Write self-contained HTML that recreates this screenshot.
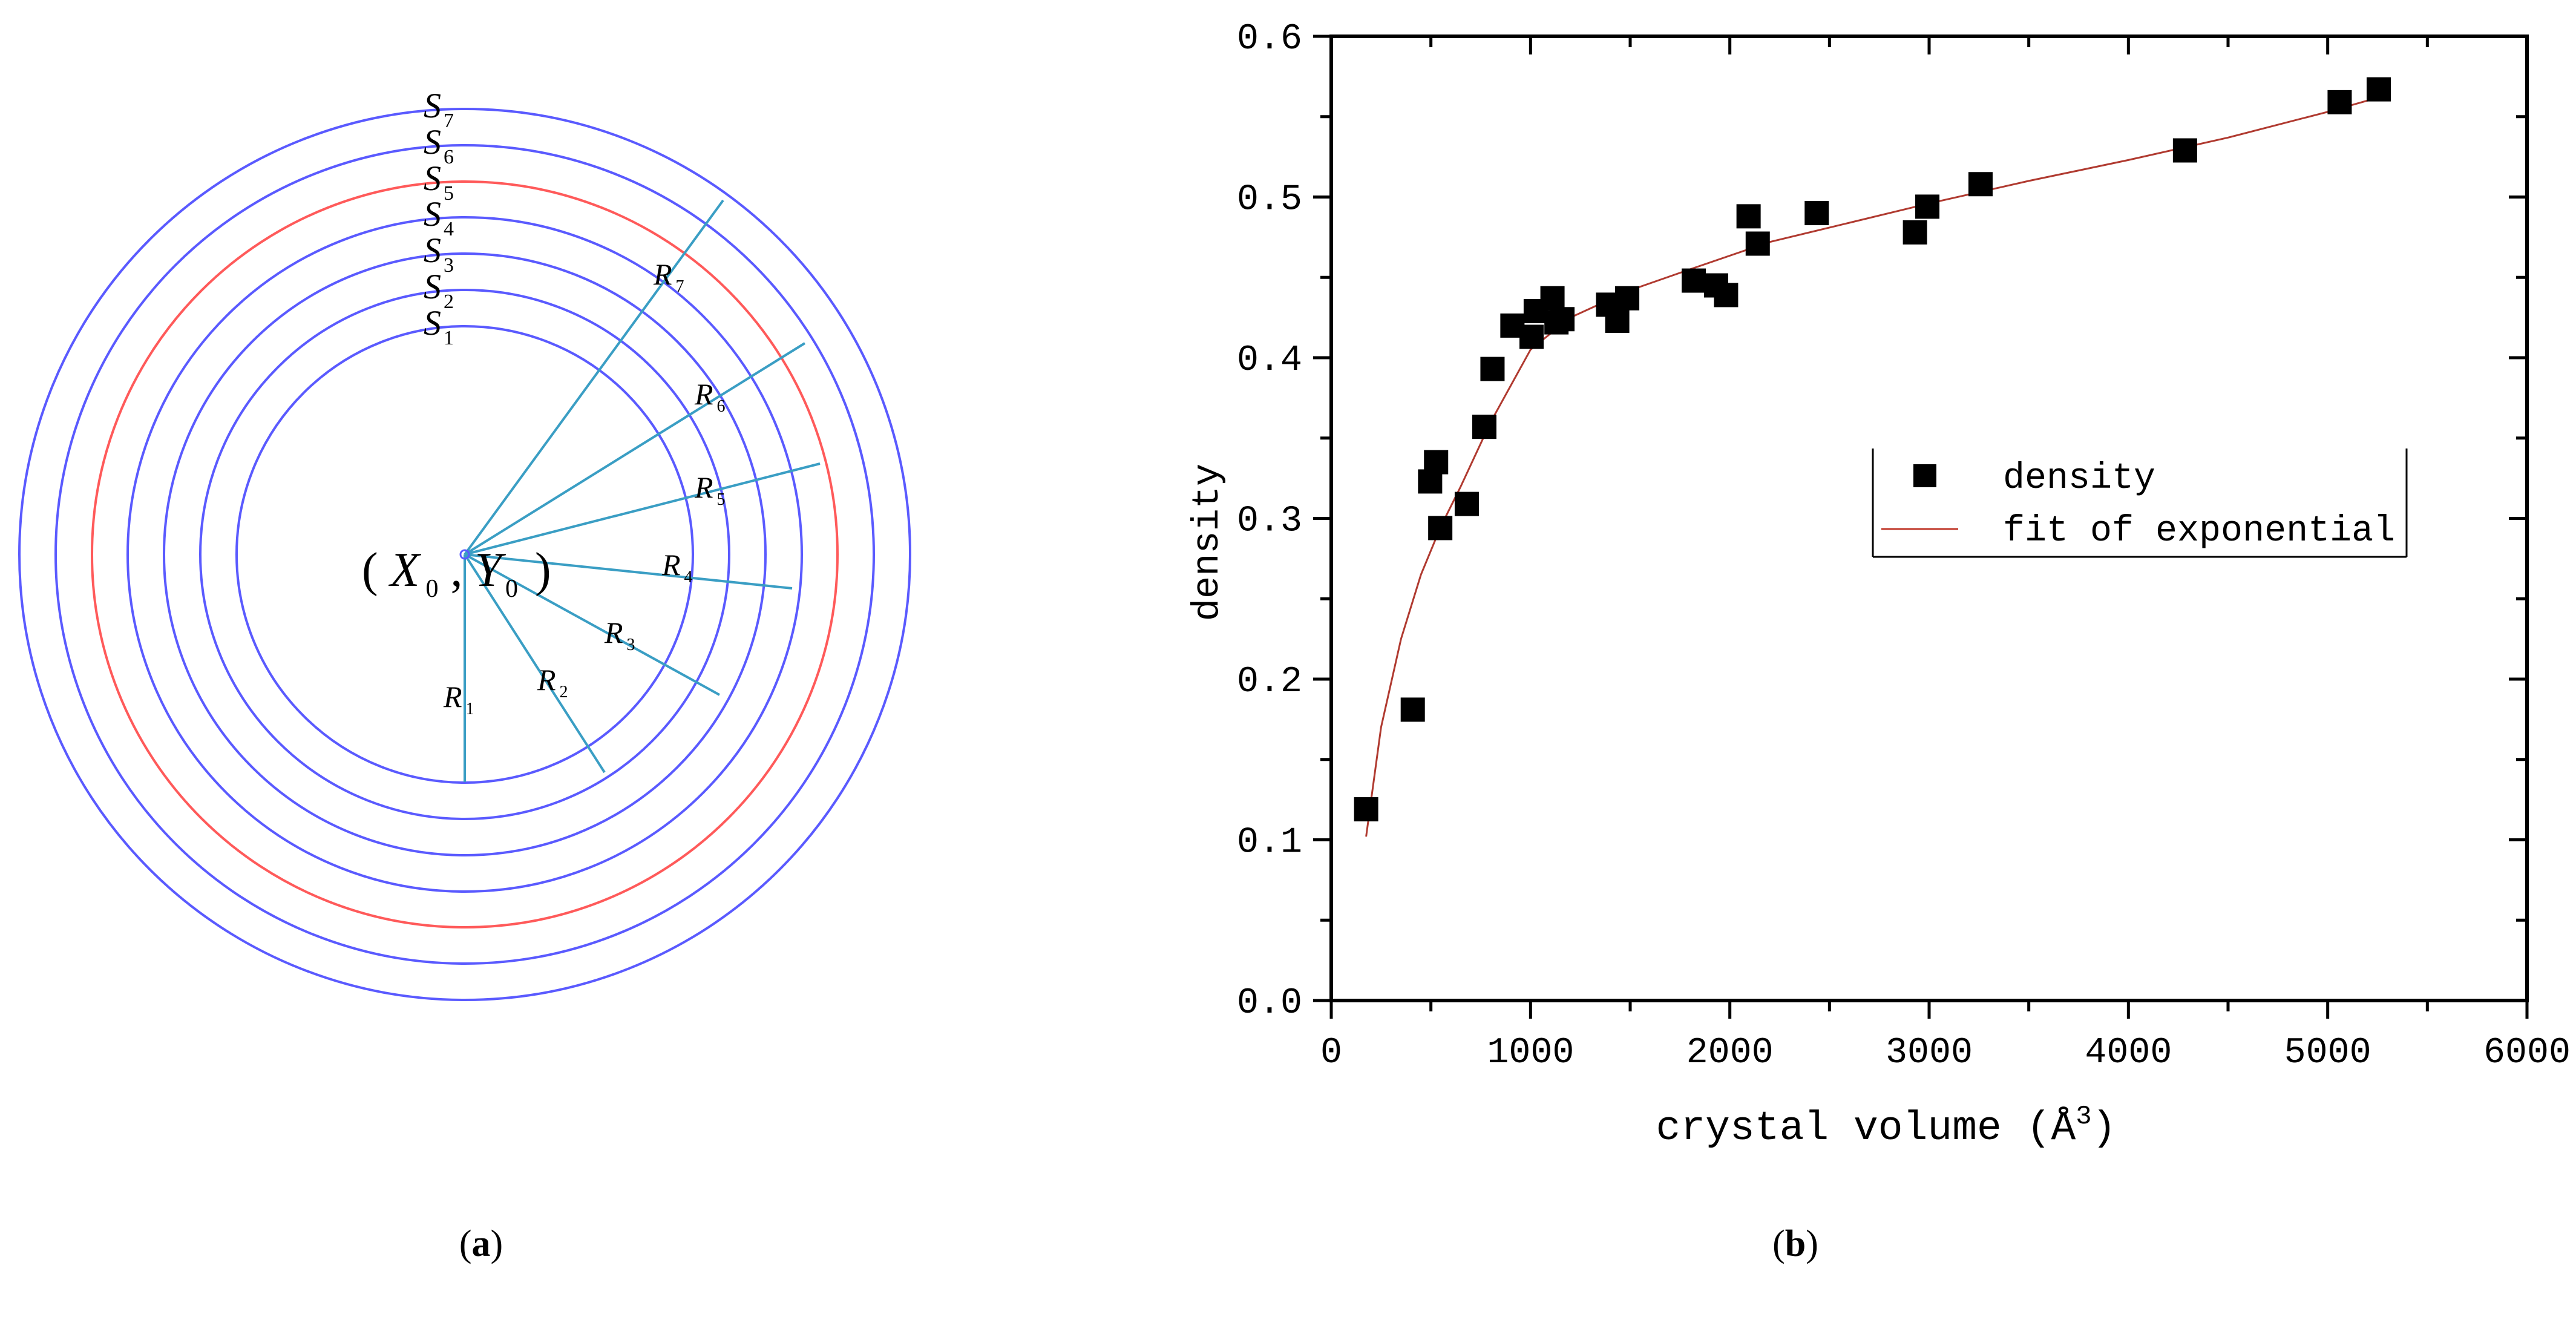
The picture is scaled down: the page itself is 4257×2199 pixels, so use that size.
<!DOCTYPE html>
<html><head><meta charset="utf-8"><style>
html,body{margin:0;padding:0;background:#fff}
svg{display:block}
.sv{font-family:"Liberation Serif",serif;font-style:italic}
.mono{font-family:"Liberation Mono",monospace}
</style></head><body>
<svg id="fig" width="4257" height="2199" viewBox="0 0 4257 2199" xmlns="http://www.w3.org/2000/svg">
<rect width="4257" height="2199" fill="#fff"/>
<g id="diagram"></g>
<text x="795" y="2075" text-anchor="middle" font-family="Liberation Serif, serif" font-size="62">(<tspan font-weight="bold">a</tspan>)</text>
<text x="2967" y="2075" text-anchor="middle" font-family="Liberation Serif, serif" font-size="62">(<tspan font-weight="bold">b</tspan>)</text>
<g id="chart"></g>
</svg>
<script>
// ---- diagram data ----
const shellRadii=[377,437,497,557,616,676,736];
const rayEnds=[[768,1292],[999,1276],[1189,1148],[1309,972],[1355,766],[1330,567],[1195,331]];
const rLabelPos=[[733,1168],[888,1140],[999,1062],[1094,950],[1148,822],[1148,668],[1080,470]];
// ---- chart data ----
const xTicks=[0,1000,2000,3000,4000,5000,6000];
const yTicks=[0,0.1,0.2,0.3,0.4,0.5,0.6];
const yTickLabels=["0.0","0.1","0.2","0.3","0.4","0.5","0.6"];
const volX=[175,409,496,526,547,680,768,809,909,1005,1026,1110,1130,1160,1389,1435,1485,1819,1931,1981,2094,2140,2436,2929,2991,3258,4284,5060,5256];
const densY=[0.119,0.181,0.323,0.335,0.294,0.309,0.357,0.393,0.420,0.413,0.429,0.437,0.422,0.424,0.433,0.423,0.437,0.448,0.445,0.439,0.488,0.471,0.490,0.478,0.494,0.508,0.529,0.559,0.567];
const fitX=[175,250,350,450,550,650,800,1000,1200,1500,1800,2200,2600,3000,3500,4000,4500,5000,5256];
const fitY=[0.102,0.17,0.225,0.265,0.295,0.32,0.36,0.405,0.425,0.442,0.455,0.472,0.484,0.496,0.51,0.523,0.537,0.553,0.562];

const NS="http://www.w3.org/2000/svg";
function mk(tag,attrs,parent,txt){const e=document.createElementNS(NS,tag);for(const k in attrs)e.setAttribute(k,attrs[k]);if(txt!==undefined)e.textContent=txt;parent.appendChild(e);return e;}

// diagram
const dg=document.getElementById('diagram');
const cx=768,cy=916;
shellRadii.forEach((r,i)=>{
  const c=mk('circle',{cx:cx,cy:cy,r:r,fill:'none',stroke:i===4?'#ff5a5a':'#5a5aff','stroke-width':4},dg);
  
  
  const t=mk('text',{x:700,y:cy-r+14,'font-size':58,class:'sv'},dg,'S');
  
  
  mk('tspan',{dx:4,dy:16,'font-size':34,'font-style':'normal'},t,String(i+1));
});
rayEnds.forEach((p,i)=>{
  const l=mk('line',{x1:cx,y1:cy,x2:p[0],y2:p[1],stroke:'#3a9ec4','stroke-width':4},dg);
  
  
  const q=rLabelPos[i];
  const t=mk('text',{x:q[0],y:q[1],'font-size':50,class:'sv'},dg,'R');
  
  
  mk('tspan',{dx:6,dy:12,'font-size':28,'font-style':'normal'},t,String(i+1));
});
const ctr=mk('circle',{cx:cx,cy:cy,r:7,fill:'none',stroke:'#5a5aff','stroke-width':3},dg);


const cl=mk('text',{x:598,y:968,'font-size':80,'font-family':'Liberation Serif, serif'},dg);


mk('tspan',{},cl,'( ');mk('tspan',{'font-style':'italic'},cl,'X');mk('tspan',{dx:10,dy:18,'font-size':42},cl,'0');
mk('tspan',{dy:-18},cl,' , ');mk('tspan',{'font-style':'italic'},cl,'Y');mk('tspan',{dx:6,dy:18,'font-size':42},cl,'0');
mk('tspan',{dx:8,dy:-18},cl,' )');

// chart
const ch=document.getElementById('chart');
const X0=2200,X1=4176,Y0=1653,Y1=60;
const sx=v=>X0+(v-0)/6000*(X1-X0);
const sy=v=>Y0-(v-0)/0.6*(Y0-Y1);
const frame=mk('rect',{x:X0,y:Y1,width:X1-X0,height:Y0-Y1,fill:'none',stroke:'#000','stroke-width':6},ch);


for(let v=0;v<=6000;v+=500){
  const major=v%1000===0, L=major?30:18;
  mk('line',{x1:sx(v),y1:Y0,x2:sx(v),y2:Y0+L,stroke:'#000','stroke-width':5},ch);
  mk('line',{x1:sx(v),y1:Y1,x2:sx(v),y2:Y1+L,stroke:'#000','stroke-width':5},ch);
}
for(let i=0;i<=12;i++){
  const v=i*0.05, L=i%2===0?30:18;
  mk('line',{x1:X0,y1:sy(v),x2:X0-L,y2:sy(v),stroke:'#000','stroke-width':5},ch);
  mk('line',{x1:X1,y1:sy(v),x2:X1-L,y2:sy(v),stroke:'#000','stroke-width':5},ch);
}
xTicks.forEach(v=>{
  const t=mk('text',{x:sx(v),y:1755,'text-anchor':'middle','font-size':60,class:'mono'},ch,String(v));
  
  
});
yTicks.forEach((v,i)=>{
  const t=mk('text',{x:2152,y:sy(v)+20,'text-anchor':'end','font-size':60,class:'mono'},ch,yTickLabels[i]);
  
  
});
const xl=mk('text',{x:3117,y:1882,'text-anchor':'middle','font-size':68,class:'mono'},ch,'crystal volume (Å');


mk('tspan',{dy:-26,'font-size':44},xl,'3');
mk('tspan',{dy:26},xl,')');
const yl=mk('text',{x:0,y:0,'text-anchor':'middle','font-size':62,class:'mono',transform:'translate(2012,896) rotate(-90)'},ch,'density');


// fit line
let d='';fitX.forEach((v,i)=>{d+=(i?'L':'M')+sx(v).toFixed(1)+','+sy(fitY[i]).toFixed(1);});
const fl=mk('path',{d:d,fill:'none',stroke:'#b03a30','stroke-width':3},ch);


// points
volX.forEach((v,i)=>{
  const r=mk('rect',{x:sx(v)-20,y:sy(densY[i])-20,width:40,height:40,fill:'#000'},ch);
  
  
});
// legend
const lg=mk('g',{},ch);


mk('line',{x1:3095,y1:741,x2:3095,y2:920,stroke:'#000','stroke-width':3},lg);
mk('line',{x1:3977,y1:741,x2:3977,y2:920,stroke:'#000','stroke-width':3},lg);
mk('line',{x1:3095,y1:920,x2:3977,y2:920,stroke:'#000','stroke-width':3},lg);
mk('rect',{x:3162,y:767,width:38,height:38,fill:'#000'},lg);
mk('line',{x1:3109,y1:874,x2:3236,y2:874,stroke:'#c0392b','stroke-width':3},lg);
const l1=mk('text',{x:3310,y:806,'font-size':60,class:'mono'},lg,'density');


const l2=mk('text',{x:3310,y:893,'font-size':60,class:'mono'},lg,'fit of exponential');


</script>
</body></html>
